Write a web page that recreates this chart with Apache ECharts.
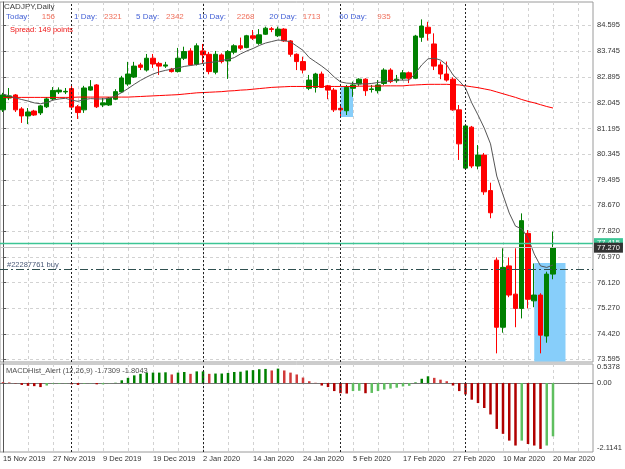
<!DOCTYPE html>
<html>
<head>
<meta charset="utf-8">
<script src="https://cdn.jsdelivr.net/npm/echarts@6/dist/echarts.min.js"></script>
<style>
html, body { margin: 0; padding: 0; background: #fff; }
#chart { width: 625px; height: 469px; }
</style>
</head>
<body>
<div id="chart"></div>
<script>
// CADJPY D1, 15 Nov 2019 .. 20 Mar 2020
var dates = [
  '15 Nov 2019','18 Nov 2019','19 Nov 2019','20 Nov 2019','21 Nov 2019','22 Nov 2019','25 Nov 2019','26 Nov 2019','27 Nov 2019','28 Nov 2019','29 Nov 2019',
  '2 Dec 2019','3 Dec 2019','4 Dec 2019','5 Dec 2019','6 Dec 2019','9 Dec 2019','10 Dec 2019','11 Dec 2019','12 Dec 2019','13 Dec 2019',
  '16 Dec 2019','17 Dec 2019','18 Dec 2019','19 Dec 2019','20 Dec 2019','23 Dec 2019','24 Dec 2019','26 Dec 2019','27 Dec 2019','30 Dec 2019','31 Dec 2019',
  '2 Jan 2020','3 Jan 2020','6 Jan 2020','7 Jan 2020','8 Jan 2020','9 Jan 2020','10 Jan 2020','13 Jan 2020','14 Jan 2020','15 Jan 2020','16 Jan 2020',
  '17 Jan 2020','20 Jan 2020','21 Jan 2020','22 Jan 2020','23 Jan 2020','24 Jan 2020','27 Jan 2020','28 Jan 2020','29 Jan 2020','30 Jan 2020','31 Jan 2020',
  '3 Feb 2020','4 Feb 2020','5 Feb 2020','6 Feb 2020','7 Feb 2020','10 Feb 2020','11 Feb 2020','12 Feb 2020','13 Feb 2020','14 Feb 2020',
  '17 Feb 2020','18 Feb 2020','19 Feb 2020','20 Feb 2020','21 Feb 2020','24 Feb 2020','25 Feb 2020','26 Feb 2020','27 Feb 2020','28 Feb 2020',
  '2 Mar 2020','3 Mar 2020','4 Mar 2020','5 Mar 2020','6 Mar 2020','9 Mar 2020','10 Mar 2020','11 Mar 2020','12 Mar 2020','13 Mar 2020',
  '16 Mar 2020','17 Mar 2020','18 Mar 2020','19 Mar 2020','20 Mar 2020'
];
var openP = [81.81,82.20,82.30,81.84,81.61,81.77,81.71,81.91,82.17,82.40, 82.40,82.51,81.91,81.81,82.46,82.63,81.97,81.97,82.16,82.40,
  82.66,82.89,83.29,83.12,83.51,83.34,83.25,83.15,83.07,83.51, 83.75,83.31,83.75,83.64,83.05,83.62,83.42,83.71,83.92,83.86,
  84.25,84.00,84.30,84.48,84.25,84.47,84.08,83.64,83.40,82.52, 82.55,82.99,82.60,82.46,81.86,81.78,82.52,82.66,82.82,82.48,
  82.44,82.68,83.12,82.77,82.85,83.03,82.85,84.20,84.53,83.98, 83.29,82.99,82.82,81.81,79.89,81.24,79.96,80.32,79.15,76.86,
  74.65,76.67,75.74,75.27,77.74,75.52,75.71,74.36,76.40];
var closeP = [82.30,82.27,81.81,81.61,81.74,81.64,81.94,82.17,82.45,82.46, 82.42,81.90,81.72,82.53,82.57,81.91,82.04,82.20,82.41,82.86,
  82.99,83.25,83.21,83.51,83.32,83.25,83.29,83.07,83.51,83.73, 83.29,83.92,83.62,83.07,83.64,83.40,83.73,83.92,83.84,84.25,
  84.17,84.28,84.50,84.46,84.47,84.08,83.64,83.40,83.12,82.79, 82.99,82.55,82.46,81.81,81.81,82.55,82.63,82.82,82.44,82.50,
  82.63,83.12,82.74,82.82,83.03,82.85,84.24,84.57,84.33,83.25, 82.99,82.79,81.81,80.69,81.28,79.96,80.32,79.11,78.42,74.65,
  76.62,75.71,75.27,78.16,75.57,75.71,74.39,76.40,77.27];
var highP = [82.37,82.53,82.33,81.90,81.87,81.81,81.97,82.23,82.56,82.55, 82.53,82.66,81.97,82.60,82.79,82.66,82.20,82.23,82.49,82.93,
  83.39,83.39,83.36,83.65,83.65,83.39,83.39,83.19,83.85,83.89, 83.84,84.00,83.98,83.72,83.75,83.67,83.78,83.97,84.19,84.28,
  84.44,84.47,84.55,84.54,84.55,84.50,84.11,83.67,83.56,82.96, 83.03,83.07,82.63,82.53,81.97,82.63,82.74,82.85,82.85,82.63,
  82.79,83.18,83.18,82.96,83.12,83.07,84.28,84.79,84.71,84.33, 83.40,83.40,82.88,81.97,81.31,81.28,80.65,80.39,79.41,76.95,
  77.25,76.95,77.25,78.40,77.85,76.75,75.77,76.48,77.80];
var lowP = [81.74,82.13,81.74,81.38,81.34,81.61,81.64,81.87,82.13,82.33, 82.33,81.87,81.51,81.71,82.44,81.87,81.90,81.94,82.13,82.37,
  82.60,82.86,83.12,83.07,83.19,82.96,83.19,83.04,83.04,83.45, 83.27,83.27,83.34,82.98,82.98,83.34,82.83,83.64,83.78,83.84,
  84.11,83.95,84.28,84.37,84.21,84.05,83.56,83.12,83.01,82.46, 82.38,82.53,82.16,81.74,81.58,81.64,82.24,82.60,82.27,82.38,
  82.35,82.63,82.69,82.70,82.79,82.69,82.82,84.05,84.09,83.12, 82.82,82.74,81.78,80.16,79.88,79.89,79.85,79.01,78.24,73.79,
  74.47,75.64,74.65,74.94,75.27,75.31,73.79,74.14,76.23];
// moving averages as drawn on the chart
var maFast = [82.33,82.27,82.20,82.15,82.10,82.04,82.01,82.05,82.13,82.17, 82.19,82.13,82.09,82.15,82.18,82.17,82.17,82.19,82.27,82.38,
  82.51,82.65,82.78,82.89,82.99,83.06,83.11,83.15,83.19,83.24, 83.27,83.30,83.34,83.37,83.39,83.44,83.47,83.53,83.65,83.75,
  83.83,83.93,84.01,84.06,84.11,84.09,84.05,83.91,83.77,83.53, 83.39,83.25,83.09,82.89,82.73,82.69,82.68,82.67,82.66,82.68,
  82.71,82.74,82.77,82.79,82.79,82.79,83.02,83.29,83.49,83.51, 83.45,83.29,82.96,82.76,82.53,82.04,81.64,81.21,80.69,79.63,
  79.01,78.41,77.98,77.89,77.59,77.06,76.67,76.62,76.70];
var maSlow = [82.22,82.22,82.22,82.22,82.22,82.22,82.22,82.22,82.22,82.22, 82.22,82.22,82.23,82.23,82.23,82.23,82.23,82.23,82.23,82.23,
  82.23,82.24,82.25,82.26,82.27,82.28,82.29,82.30,82.31,82.33, 82.35,82.37,82.38,82.39,82.40,82.41,82.43,82.44,82.46,82.47,
  82.49,82.51,82.53,82.55,82.56,82.57,82.58,82.58,82.58,82.58, 82.58,82.58,82.58,82.58,82.58,82.58,82.58,82.59,82.59,82.59,
  82.59,82.60,82.60,82.60,82.60,82.62,82.63,82.64,82.65,82.65, 82.65,82.65,82.64,82.63,82.60,82.57,82.54,82.50,82.46,82.40,
  82.34,82.28,82.22,82.15,82.09,82.04,81.98,81.92,81.87];
var macdHist = [0.03,0.02,-0.01,-0.06,-0.09,-0.10,-0.13,-0.08,-0.02,-0.02, -0.01,-0.04,-0.06,-0.02,-0.01,-0.04,-0.04,-0.01,0.01,0.09,
  0.17,0.25,0.30,0.34,0.34,0.34,0.35,0.28,0.34,0.36, 0.30,0.38,0.38,0.30,0.31,0.31,0.33,0.36,0.37,0.41,
  0.42,0.45,0.46,0.41,0.47,0.41,0.34,0.28,0.18,0.06, 0.01,-0.08,-0.13,-0.26,-0.33,-0.34,-0.26,-0.25,-0.33,-0.32,
  -0.26,-0.21,-0.18,-0.15,-0.11,-0.09,0.02,0.14,0.22,0.17, 0.11,0.06,-0.08,-0.26,-0.37,-0.54,-0.65,-0.81,-1.02,-1.49,
  -1.65,-1.87,-2.03,-1.87,-1.98,-2.03,-2.14,-2.03,-1.73];
var priceTicks = [84.595, 83.745, 82.895, 82.045, 81.195, 80.345, 79.495, 78.670, 77.820, 76.970, 76.120, 75.270, 74.420, 73.595];
var macdTicks = [0.5378, 0, -2.1141];
var statNames = ['Today:', '1 Day:', '5 Day:', '10 Day:', '20 Day:', '60 Day:'];
var statValues = ['156', '2321', '2342', '2268', '1713', '935'];
// objects on the chart: [fromBar, topPrice, toBar, bottomPrice]
var boxes = [[54, 82.595, 56, 81.574], [85, 76.765, 90, 73.52]];
var askLevel = 77.415, bidLevel = 77.270, orderLevel = 76.558;

var FONT = '"Liberation Sans", Arial, sans-serif';
var xMin = -0.48, xMax = 94.4;
var gridCol = '#d2d2d2';

var gridIdx = [];
for (var g = 0; g <= 92; g += 4) gridIdx.push(g);
var labelIdx = [];
for (var k = 0; k < dates.length; k += 8) labelIdx.push(k);
var monthStarts = [];
for (var m = 1; m < dates.length; m++) {
  if (dates[m].split(' ')[1] !== dates[m - 1].split(' ')[1]) monthStarts.push(m);
}

var candles = dates.map(function(d, i) { return [i, openP[i], closeP[i], lowP[i], highP[i]]; });
var fastLine = maFast.map(function(v, i) { return [i, v]; });
var slowLine = maSlow.map(function(v, i) { return [i, v]; });
var histBars = macdHist.map(function(v, i) { return [i, v]; });

function txt(x, y, s, color, size) {
  return {
    type: 'text', x: x, y: y, silent: true, z: 100,
    style: { text: s, fill: color, font: size + 'px ' + FONT, verticalAlign: 'middle' }
  };
}
var statX = [[6, 41.7], [74, 104], [136, 166], [198.3, 236.7], [269.3, 302.7], [339.3, 377.3]];
var graphics = [txt(4, 7, 'CADJPY,Daily', '#3a3a3a', 8)];
statNames.forEach(function(n, i) {
  graphics.push(txt(statX[i][0], 17, n, '#4562d6', 8));
  graphics.push(txt(statX[i][1], 17, statValues[i], '#f0705c', 8));
});
graphics.push(txt(10, 30, 'Spread: 149 points', '#ee1111', 7.5));
graphics.push(txt(7, 265, '#22287761 buy', '#4b5a78', 7.5));
graphics.push(txt(6, 370.5, 'MACDHist_Alert (12,26,9) -1.7309 -1.8043', '#505050', 7.5));

var chart = echarts.init(document.getElementById('chart'), null, { renderer: 'canvas' });

var sepLine = {
  symbol: ['none', 'none'], silent: true, animation: false,
  label: { show: false },
  lineStyle: { color: '#222', type: [2, 2], width: 1 },
  data: monthStarts.map(function(i) { return { xAxis: i }; })
};
function levelLine(value, lineColor, lineType, labelBg, width) {
  return {
    symbol: ['none', 'none'], silent: true, animation: false,
    lineStyle: { color: lineColor, type: lineType, width: width || 1, opacity: 1 },
    label: labelBg ? {
      show: true, position: 'end', distance: 1, formatter: value.toFixed(3), color: '#fff',
      backgroundColor: labelBg, padding: [1, 3], fontSize: 7.5, fontFamily: FONT
    } : { show: false },
    data: [{ yAxis: value }]
  };
}

var option = {
  animation: false,
  backgroundColor: '#ffffff',
  textStyle: { fontFamily: FONT },
  graphic: graphics,
  grid: [
    { left: 0, top: 2, width: 593, height: 360, show: true, borderColor: '#9a9a9a', borderWidth: 1, outerBoundsMode: 'none' },
    { left: 0, top: 364, width: 593, height: 88, show: true, borderColor: '#9a9a9a', borderWidth: 1, outerBoundsMode: 'none' }
  ],
  xAxis: [
    {
      gridIndex: 0, type: 'value', min: xMin, max: xMax,
      axisLine: { show: false }, axisLabel: { show: false },
      axisTick: { show: false, customValues: gridIdx },
      splitLine: { show: true, lineStyle: { color: gridCol, type: [3, 3] } }
    },
    {
      gridIndex: 1, type: 'value', min: xMin, max: xMax,
      axisLine: { show: true, lineStyle: { color: '#777' } },
      axisTick: { show: false, customValues: gridIdx },
      axisLabel: {
        customValues: labelIdx, align: 'left', margin: 3,
        fontSize: 7.5, color: '#333', fontFamily: FONT,
        formatter: function(v) { return dates[Math.round(v)] || ''; }
      },
      splitLine: { show: true, lineStyle: { color: gridCol, type: [3, 3] } }
    }
  ],
  yAxis: [
    {
      gridIndex: 0, type: 'value', position: 'right', min: 73.505, max: 85.362,
      axisLine: { show: true, lineStyle: { color: '#555' } },
      axisTick: { show: true, length: 3, customValues: priceTicks, lineStyle: { color: '#555' } },
      axisLabel: {
        customValues: priceTicks, margin: 4, fontSize: 7.5, color: '#333', fontFamily: FONT,
        formatter: function(v) { return v.toFixed(3); }
      },
      splitLine: { show: true, lineStyle: { color: gridCol, type: [3, 3] } }
    },
    {
      gridIndex: 1, type: 'value', position: 'right', min: -2.24, max: 0.62,
      axisLine: { show: true, lineStyle: { color: '#555' } },
      axisTick: { show: true, length: 3, customValues: [0], lineStyle: { color: '#555' } },
      axisLabel: {
        customValues: macdTicks, margin: 4, fontSize: 7.5, color: '#333', fontFamily: FONT,
        formatter: function(v) { return v === 0 ? '0.00' : v.toFixed(4); }
      },
      splitLine: { show: true, lineStyle: { color: gridCol, type: [3, 3] } }
    }
  ],
  series: [
    {
      type: 'candlestick', xAxisIndex: 0, yAxisIndex: 0,
      data: candles, barWidth: 5,
      itemStyle: { color: '#008000', color0: '#ff0000', borderColor: '#008000', borderColor0: '#ff0000', borderWidth: 1 },
      markArea: {
        silent: true,
        itemStyle: { color: '#87cefa', opacity: 1 },
        data: boxes.map(function(b) { return [{ coord: [b[0], b[1]] }, { coord: [b[2], b[3]] }]; })
      },
      markLine: levelLine(orderLevel, '#2f4f4f', [8, 3, 2, 3], null)
    },
    {
      type: 'line', xAxisIndex: 0, yAxisIndex: 0, data: slowLine,
      symbol: 'none', lineStyle: { color: '#ff0000', width: 1 }, z: 3,
      markLine: levelLine(askLevel, '#3cc595', 'solid', '#3cc595', 1.3)
    },
    {
      type: 'line', xAxisIndex: 0, yAxisIndex: 0, data: fastLine,
      symbol: 'none', lineStyle: { color: '#555', width: 1 }, z: 3,
      markLine: levelLine(bidLevel, '#c4c4c4', 'solid', '#333')
    },
    {
      type: 'line', xAxisIndex: 0, yAxisIndex: 0, data: [],
      symbol: 'none', markLine: sepLine
    },
    {
      type: 'bar', xAxisIndex: 1, yAxisIndex: 1, data: histBars, barWidth: 2.5,
      itemStyle: {
        color: function(p) {
          var i = p.dataIndex, v = macdHist[i];
          var up = i > 0 && v >= macdHist[i - 1];
          if (up) return v >= 0 ? '#008000' : '#5fbf5f';
          return v >= 0 ? '#d03a3a' : '#b00000';
        }
      },
      markLine: sepLine
    }
  ]
};
chart.setOption(option);
</script>
</body>
</html>
